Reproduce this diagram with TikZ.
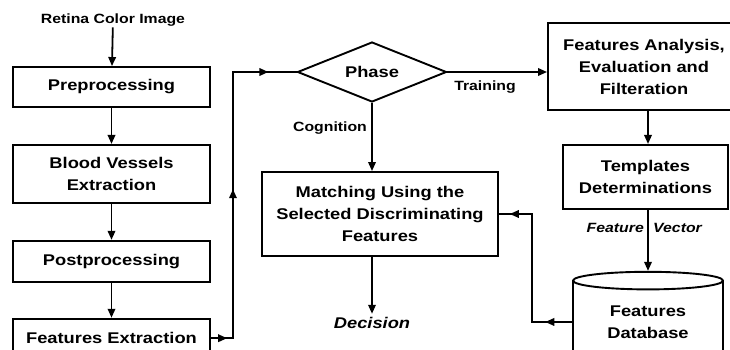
\documentclass[tikz,border=0pt]{standalone}
\usepackage{fontspec}
\setmainfont[FakeStretch=1.18]{Liberation Sans}
\usetikzlibrary{positioning, arrows.meta, shapes.geometric, decorations.markings}

\newcommand{\boxfont}{\fontsize{15.5}{22}\selectfont\bfseries}
\newcommand{\lblfont}{\fontsize{13.4}{16}\selectfont\bfseries}

\tikzset{
  stepbox/.style={draw, line width=1.9pt, align=center, font=\boxfont, minimum width=197pt, inner sep=2pt},
  lbl/.style={font=\lblfont, inner sep=1pt},
  arr/.style={line width=1.8pt, -{Triangle[length=9pt,width=7.5pt]}},
  link/.style={line width=1.8pt},
  tipat/.style={postaction={decorate, decoration={markings,
      mark=at position #1 with {\arrow{Triangle[length=9pt,width=7.5pt]}}}}},
}

\begin{document}
\begin{tikzpicture}[x=1pt, y=-1pt, node distance=36pt]
  \useasboundingbox (0,0) rectangle (730,350);
  % left column
  \node[lbl] (retina) at (113,20) {Retina Color Image};
  \node[stepbox, minimum height=40pt] (pre) at (111.5,87) {Preprocessing};
  \node[stepbox, minimum height=58pt, below=of pre] (vessels) {Blood Vessels\\Extraction};
  \node[stepbox, minimum height=41pt, below=of vessels] (post) {Postprocessing};
  \node[stepbox, minimum height=39pt, below=35pt of post] (fext) {Features Extraction};

  % middle
  \node[draw, diamond, aspect=2.5, line width=1.9pt, inner sep=0pt, minimum width=149pt,
        minimum height=60pt, font=\boxfont] (phase) at (372,72) {Phase};
  \node[stepbox, minimum width=236pt, minimum height=84pt] (match) at (380,214)
        {Matching Using the\\Selected Discriminating\\Features};
  \node[font=\boxfont\itshape] (decision) at (372,323) {Decision};
  \node[lbl] (training) at (485,87) {Training};
  \node[lbl] (cognition) at (330,128) {Cognition};

  % right column
  \node[stepbox, minimum width=192pt, minimum height=87pt] (fae) at (644,66.5)
        {Features Analysis,\\Evaluation and\\Filteration};
  \node[stepbox, minimum width=165pt, minimum height=64pt, below=33pt of fae, xshift=1.5pt] (templ)
        {Templates\\Determinations};
  \node[draw, cylinder, shape border rotate=90, aspect=0.2, line width=1.9pt, align=center,
        minimum width=150pt, minimum height=88pt, font=\boxfont, below=61pt of templ, xshift=2.5pt] (db)
        {Features\\Database};
  \node[lbl, anchor=east, font=\lblfont\itshape] (featlbl) at (645,228) {Feature};
  \node[lbl, anchor=west, font=\lblfont\itshape] (veclbl) at (652,228) {Vector};

  % connectors
  \draw[arr] (retina) -- (pre);
  \draw[arr] (pre) -- (vessels);
  \draw[arr] (vessels) -- (post);
  \draw[arr] (post) -- (fext);
  \draw[link, tipat=0.046, tipat=0.486, tipat=0.92] (fext.east) -- ++(22,0) |- (phase.west);
  \draw[arr] (phase.east) -- (phase.east -| fae.west);
  \draw[arr] (phase.south) -- (phase.south |- match.north);
  \draw[arr] (phase.south |- match.south) -- (decision);
  \draw[arr] (fae.south -| db.north) -- (templ.north -| db.north);
  \draw[arr] (templ.south -| db.north) -- (db.north);
  \draw[link, tipat=0.148, tipat=0.94] (db.west) -- ++(-40,0) |- (match.east);
\end{tikzpicture}
\end{document}
